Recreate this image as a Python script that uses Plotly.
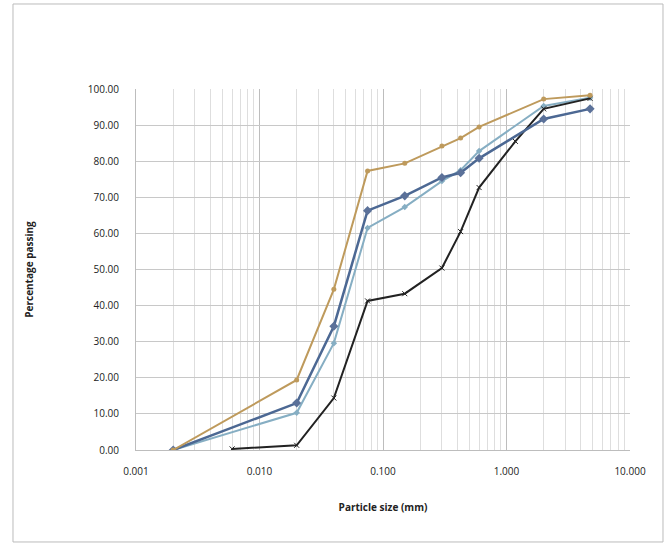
import plotly.graph_objects as go

# Data
sizes = [0.002, 0.02, 0.04, 0.075, 0.15, 0.3, 0.425, 0.6, 2.0, 4.75]
brown = [0.0, 19.4, 44.5, 77.3, 79.4, 84.2, 86.4, 89.5, 97.2, 98.3]
darkblue = [0.0, 13.0, 34.3, 66.3, 70.4, 75.5, 76.8, 80.8, 91.7, 94.5]
lightblue = [0.0, 10.3, 29.6, 61.5, 67.3, 74.5, 77.5, 82.8, 95.3, 97.6]
black_sizes = [0.006, 0.02, 0.04, 0.075, 0.15, 0.3, 0.425, 0.6, 1.18, 2.0, 4.75]
black = [0.3, 1.3, 14.4, 41.3, 43.3, 50.4, 60.5, 72.7, 85.5, 94.5, 97.4]

x_tickvals = [0.001, 0.01, 0.1, 1, 10]
x_ticktext = ["0.001", "0.010", "0.100", "1.000", "10.000"]
y_tickvals = [0, 10, 20, 30, 40, 50, 60, 70, 80, 90, 100]
y_ticktext = ["%.2f" % v for v in y_tickvals]
minor_vals = [m * 10 ** e for e in range(-3, 1) for m in range(2, 10)]

fig = go.Figure()
fig.add_trace(go.Scatter(x=sizes, y=lightblue, mode="lines+markers",
                         line=dict(color="#86AEC3", width=2),
                         marker=dict(symbol="diamond", size=5, color="#86AEC3")))
fig.add_trace(go.Scatter(x=black_sizes, y=black, mode="lines+markers",
                         line=dict(color="#222222", width=2),
                         marker=dict(symbol="x-thin", size=5, color="#222222",
                                     line=dict(color="#222222", width=1))))
fig.add_trace(go.Scatter(x=sizes, y=darkblue, mode="lines+markers",
                         line=dict(color="#4C6893", width=2.5),
                         marker=dict(symbol="diamond", size=7, color="#5B7199")))
fig.add_trace(go.Scatter(x=sizes, y=brown, mode="lines+markers",
                         line=dict(color="#BE9A5C", width=2),
                         marker=dict(symbol="circle", size=5, color="#BE9A5C")))

font = "Open Sans, Liberation Sans, sans-serif"
fig.update_layout(
    width=666, height=547,
    margin=dict(l=136, r=36, t=89, b=97),
    paper_bgcolor="white", plot_bgcolor="white",
    showlegend=False,
    font=dict(family=font, size=10, color="#222"),
    shapes=[dict(type="rect", xref="paper", yref="paper",
                 x0=-0.249, x1=1.0668, y0=-0.2548, y1=1.2355,
                 line=dict(color="#BBBBBB", width=1))],
)
fig.update_xaxes(type="log", range=[-3, 1],
                 tickvals=x_tickvals, ticktext=x_ticktext,
                 showgrid=True, gridcolor="#BDBDBD", gridwidth=1,
                 showline=True, linecolor="#BDBDBD", zeroline=False,
                 ticks="", ticklabelstandoff=12, tickfont=dict(size=10, color="#222"),
                 minor=dict(tickvals=minor_vals, showgrid=True, gridcolor="#DEDEDE", gridwidth=1),
                 title=dict(text="<b>Particle size (mm)</b>", font=dict(size=10, color="#222"), standoff=26))
fig.update_yaxes(range=[0, 100],
                 tickvals=y_tickvals, ticktext=y_ticktext,
                 showgrid=True, gridcolor="#C8C8C8", gridwidth=1,
                 showline=True, linecolor="#BDBDBD", zeroline=False,
                 ticks="", ticklabelstandoff=14, tickfont=dict(size=10, color="#222"),
                 title=dict(text="<b>Percentage passing</b>", font=dict(size=10, color="#222"), standoff=52))

fig.write_html("out.html")
